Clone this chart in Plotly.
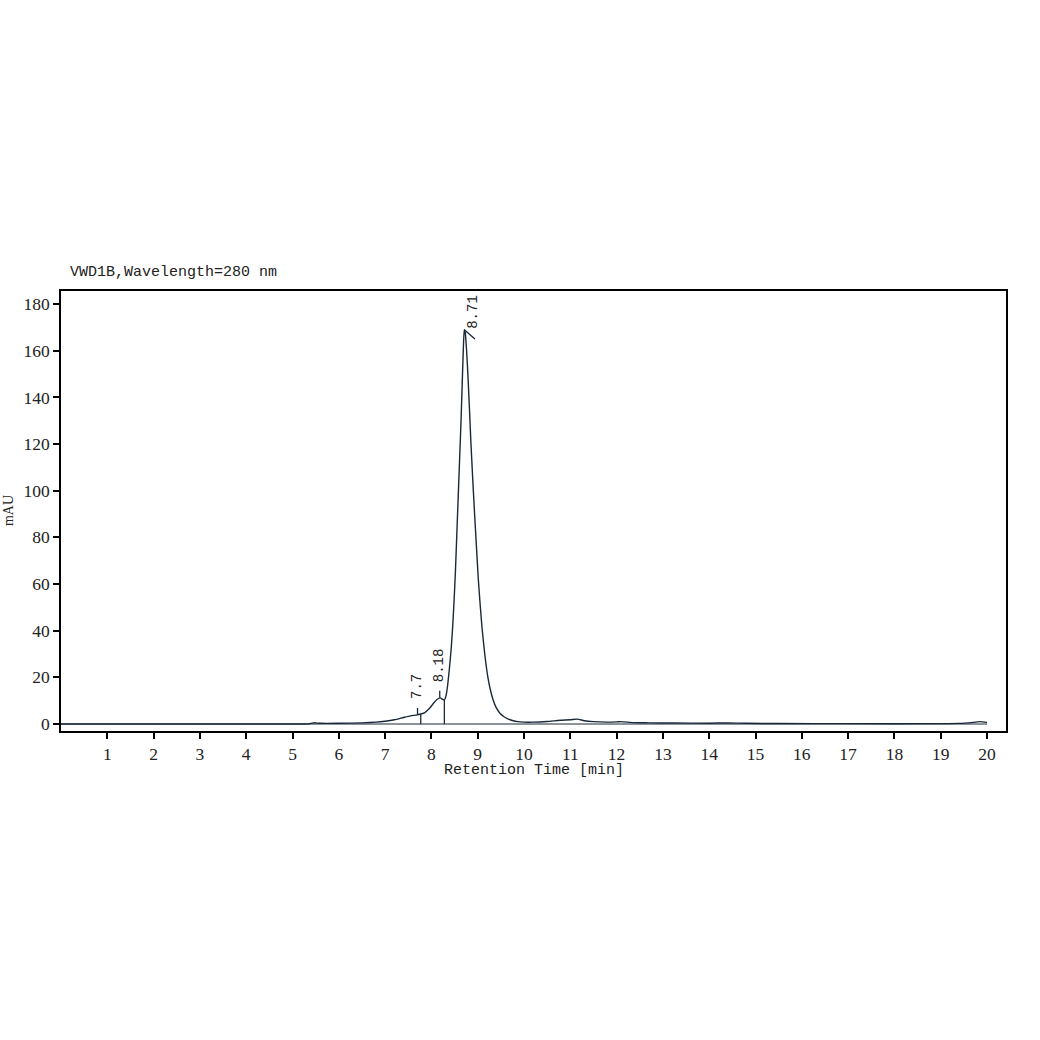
import plotly.graph_objects as go

# ---- data ----
time_min = [0.0, 5.0, 5.35, 5.45, 5.6, 6.0, 6.5, 6.8, 7.0, 7.2, 7.4, 7.55, 7.7, 7.77,
            7.85, 7.95, 8.05, 8.12, 8.19, 8.24, 8.28, 8.32, 8.35, 8.39, 8.43, 8.46,
            8.49, 8.52, 8.55, 8.58, 8.61, 8.64, 8.67, 8.69, 8.71, 8.73, 8.76, 8.79,
            8.82, 8.85, 8.89, 8.93, 8.97, 9.01, 9.05, 9.09, 9.13, 9.17, 9.22, 9.27,
            9.33, 9.4, 9.48, 9.56, 9.65, 9.75, 9.87, 10.0, 10.2, 10.5, 10.78,
            11.0, 11.15, 11.3, 11.5, 11.8, 12.0, 12.1, 12.36, 12.7, 13.2, 14.0,
            14.4, 14.8, 15.5, 17.0, 19.0, 19.4, 19.7, 19.85, 20.0]
signal_mau = [0.0, 0.0, 0.05, 0.5, 0.3, 0.3, 0.5, 0.8, 1.2, 1.8, 2.8, 3.5, 3.9, 4.3,
              4.8, 6.5, 9.0, 10.5, 11.2, 10.6, 10.3, 12.5, 16.5, 24.0, 33.0, 42.0,
              53.0, 66.0, 82.0, 98.0, 114.0, 130.0, 149.0, 161.0, 169.0, 168.0, 160.0, 149.0,
              136.0, 122.0, 106.0, 91.0, 77.0, 63.0, 52.0, 42.0, 34.0, 27.0, 20.0, 15.0,
              10.5, 7.0, 4.6, 3.2, 2.2, 1.5, 1.0, 0.8, 0.8, 1.1, 1.6,
              1.8, 2.1, 1.4, 1.0, 0.8, 0.9, 1.0, 0.6, 0.5, 0.4, 0.35,
              0.45, 0.3, 0.2, 0.15, 0.15, 0.25, 0.7, 1.0, 0.7]

baseline_time = [0.0, 20.0]
baseline_mau = [0.0, 0.0]

peak_labels = ["7.7", "8.18", "8.71"]
peak_times = [7.7, 8.18, 8.71]
peak_heights = [3.9, 11.2, 169.0]

boundary_times = [7.77, 8.28]
boundary_heights = [4.3, 10.3]

x_ticks = list(range(1, 21))
y_ticks = list(range(0, 181, 20))

LINE = "#1b2838"
MONO = "Liberation Mono"
SERIF = "Liberation Serif"

fig = go.Figure()
fig.add_trace(go.Scatter(x=baseline_time, y=baseline_mau, mode="lines",
                         line=dict(color=LINE, width=1.2), hoverinfo="skip",
                         showlegend=False))
fig.add_trace(go.Scatter(x=time_min, y=signal_mau, mode="lines",
                         line=dict(color=LINE, width=1.4, shape="spline", smoothing=0.5),
                         showlegend=False))

shapes = []
# drop lines at peak boundaries
for t, h in zip(boundary_times, boundary_heights):
    shapes.append(dict(type="line", xref="x", yref="y", x0=t, x1=t, y0=0, y1=h,
                       line=dict(color=LINE, width=1.3)))
# apex markers
for i, (t, h) in enumerate(zip(peak_times, peak_heights)):
    if i < 2:
        shapes.append(dict(type="line", xref="x", yref="y", x0=t, x1=t,
                           y0=h, y1=h + 3.0, line=dict(color=LINE, width=1.3)))
    else:
        shapes.append(dict(type="line", xref="x", yref="y", x0=t, x1=t + 0.23,
                           y0=h, y1=h - 4.0, line=dict(color=LINE, width=1.3)))

annotations = []
label_dx = [0.0, -0.01, 0.19]
label_dy = [6.4, 6.4, 0.0]
for lab, t, h, dx, dy in zip(peak_labels, peak_times, peak_heights, label_dx, label_dy):
    annotations.append(dict(x=t + dx, y=h + dy, xref="x", yref="y", text=lab,
                            textangle=-90, showarrow=False, xanchor="center",
                            yanchor="bottom", borderpad=0,
                            font=dict(family=MONO, size=14, color="#222")))

annotations.append(dict(x=0.0074, y=1.041, xref="paper", yref="paper",
                        text="VWD1B,Wavelength=280 nm", showarrow=False,
                        xanchor="left", yanchor="middle",
                        font=dict(family=MONO, size=15, color="#222")))
annotations.append(dict(x=0.5, y=-0.09, xref="paper", yref="paper",
                        text="Retention Time [min]", showarrow=False,
                        xanchor="center", yanchor="middle",
                        font=dict(family=MONO, size=15, color="#222")))
annotations.append(dict(x=-0.056, y=0.5, xref="paper", yref="paper",
                        text="mAU", showarrow=False, textangle=-90,
                        xanchor="center", yanchor="middle",
                        font=dict(family=SERIF, size=14, color="#222")))

fig.update_layout(
    width=1040, height=1040,
    margin=dict(l=61, r=34, t=291, b=309),
    paper_bgcolor="white", plot_bgcolor="white",
    shapes=shapes, annotations=annotations,
    showlegend=False,
)
fig.update_xaxes(range=[0, 20.41], tickvals=x_ticks, ticks="outside", ticklen=6,
                 tickwidth=1.5, tickcolor="black", showline=True, mirror=True,
                 linecolor="black", linewidth=1.5, showgrid=False, zeroline=False,
                 tickfont=dict(family=SERIF, size=17.5, color="#222"))
fig.update_yaxes(range=[-3, 185.6], tickvals=y_ticks, ticks="outside", ticklen=6,
                 tickwidth=1.5, tickcolor="black", showline=True, mirror=True,
                 linecolor="black", linewidth=1.5, showgrid=False, zeroline=False,
                 tickfont=dict(family=SERIF, size=17.5, color="#222"))

fig.write_html("out.html",
               config={"displayModeBar": False},
               post_script="document.body.style.margin='0';document.body.style.overflow='hidden';")
